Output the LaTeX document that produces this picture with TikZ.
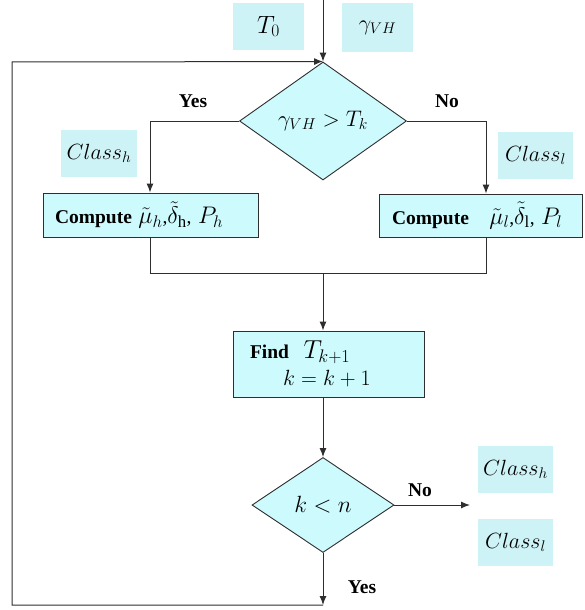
\RequirePackage{fix-cm}
\documentclass[tikz,border=0pt]{standalone}
\usepackage{fontspec}
\setmainfont{Liberation Serif}
\usetikzlibrary{shapes.geometric,arrows.meta}
\definecolor{boxfill}{HTML}{CCFAFD}
\definecolor{tagfill}{HTML}{CDF3F7}
\definecolor{linecol}{HTML}{2E2E2E}
\newcommand{\bigmath}[1]{{\fontsize{24}{26}\selectfont$#1$}}
\tikzset{
  procbox/.style={draw=linecol, fill=boxfill, line width=0.9pt, rectangle,
    inner ysep=0pt, align=left, font=\fontsize{19.5}{22}\selectfont},
  decision/.style={draw=linecol, fill=boxfill, line width=0.9pt, diamond,
    inner sep=0pt, font=\fontsize{22.5}{26}\selectfont},
  tag/.style={fill=tagfill, rectangle, inner sep=0pt,
    font=\fontsize{22}{24}\selectfont},
  flow/.style={draw=linecol, line width=1pt},
  arrow/.style={flow, -{Latex[length=9pt,width=7pt]}},
  answer/.style={font=\fontsize{19.5}{22}\selectfont\bfseries, inner sep=0pt}
}
\begin{document}
\begin{tikzpicture}[x=1pt, y=-1pt]
\useasboundingbox (0,0) rectangle (585,610);

% inputs
\node[tag, minimum width=71pt, minimum height=47pt] (t0) at (268.5,26.5) {\fontsize{25}{26}\selectfont$T_0$};
\node[tag, minimum width=71pt, minimum height=49pt] (gvh) at (377.5,27.5) {$\gamma_{VH}$};

% first decision
\node[decision, minimum width=167pt, minimum height=118pt] (d1) at (323,121) {$\gamma_{VH} > T_k$};
\node[answer] (yes1) at (193,101) {Yes};
\node[answer] (no1) at (447,101) {No};

% class tags of the two branches
\node[tag, minimum width=76pt, minimum height=47pt] (chl) at (99,153.5) {$Class_h$};
\node[tag, minimum width=75pt, minimum height=47pt] (cll) at (535.5,155.5) {$Class_l$};

% compute boxes
\node[procbox, minimum height=44pt, text width=191pt, inner xsep=12pt] (cl) at (150.5,215)
  {\textbf{Compute} \bigmath{\tilde{\mu}_h},\bigmath{\tilde{\delta}_{\mathrm{h}}}, \bigmath{P_h}};
\node[procbox, minimum height=43pt, text width=177pt, inner xsep=13pt] (cr) at (480.5,215.5)
  {\textbf{Compute}\hspace{14pt} \bigmath{\tilde{\mu}_l},\bigmath{\tilde{\delta}_{\mathrm{l}}}, \bigmath{P_l}};

% update box
\node[procbox, minimum height=66pt, text width=157pt, inner xsep=17pt] (find) at (328.5,364)
  {\textbf{Find}\hspace{8pt} {\fontsize{26}{26}\selectfont$T_{k+1}$}\\[5pt]\hspace*{33pt}{\fontsize{22}{24}\selectfont$k=k+1$}};

% second decision
\node[decision, minimum width=142pt, minimum height=95pt] (d2) at (323,505) {\fontsize{23.5}{26}\selectfont$k<n$};
\node[answer] (no2) at (420,490) {No};
\node[answer] (yes2) at (362,587) {Yes};

% outputs
\node[tag, minimum width=75pt, minimum height=47pt] (outh) at (515.5,469.5) {$Class_h$};
\node[tag, minimum width=75pt, minimum height=47pt] (outl) at (515.5,542.5) {$Class_l$};

% helper points
\coordinate (in) at (323,0);
\coordinate (mid) at (323,273);
\coordinate (noend) at (470,505);
\coordinate (lb) at (323,605);
\coordinate (lbot) at (12,605);
\coordinate (ltop) at (12,62);

% connectors
\draw[arrow] (in) -- (d1.north);
\draw[arrow] (d1.west) -| ([xshift=-0.5pt]cl.north);
\draw[arrow] (d1.east) -| ([xshift=5.5pt]cr.north);
\draw[flow] ([xshift=-0.5pt]cl.south) |- (mid);
\draw[flow] ([xshift=5.5pt]cr.south) |- (mid);
\draw[arrow] (mid) -- (mid |- find.north);
\draw[arrow] (d2.north |- find.south) -- (d2.north);
\draw[arrow] (d2.east) -- (noend);
\draw[arrow] (d2.south) -- (lb);
\draw[arrow] (lb) -- (lbot) -- (ltop) -- (d1.north);
\end{tikzpicture}
\end{document}
